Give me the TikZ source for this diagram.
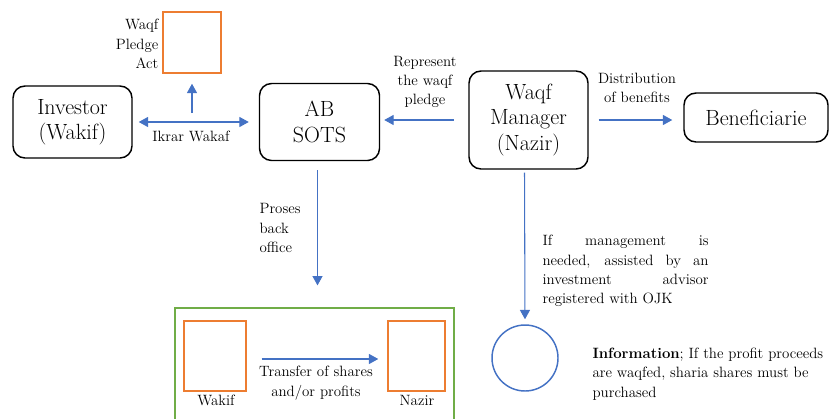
\documentclass[tikz,border=0pt]{standalone}
\usepackage{fontspec}
\usetikzlibrary{arrows.meta}
\definecolor{linkblue}{HTML}{4472C4}
\definecolor{boxorange}{HTML}{ED7D31}
\definecolor{framegreen}{HTML}{70AD47}

\begin{document}
\begin{tikzpicture}[
    x=0.75pt, y=-0.75pt,
    party/.style={%
        draw=black, line width=1.1pt, rounded corners=9pt,
        align=center, font=\fontsize{16.5}{19}\selectfont},
    document/.style={%
        draw=boxorange, line width=1.1pt},
    link/.style={%
        draw=linkblue, line width=0.8pt,
        -{Triangle[width=7.5pt,length=7pt]}},
    note/.style={%
        inner sep=1pt, font=\fontsize{11.2}{14.5}\selectfont},
]
    \useasboundingbox (0,0) rectangle (830,418);
     %Parties
    \node[party, minimum width=89.25pt, minimum height=54pt] (investor) at (72.5,122) {Investor\\(Wakif)};
    \node[party, minimum width=90pt, minimum height=57.75pt] (sots) at (319.5,122) {AB\\SOTS};
    \node[party, minimum width=89.25pt, minimum height=73.5pt] (manager) at (528.5,120) {Waqf\\Manager\\(Nazir)};
    \node[party, minimum width=108pt, minimum height=36.75pt] (benef) at (756,117.5) {Beneficiarie};
     %Documents
    \node[document, minimum width=43.5pt, minimum height=45.75pt] (pledge) at (192,42.5) {};
    \node[note, anchor=east, align=right] (pledgelabel) at (160,44) {Waqf\\Pledge\\Act};
    \node[draw=framegreen, line width=0.9pt, minimum width=209.25pt, minimum height=91.5pt] (office) at (314.5,369) {};
    \node[document, minimum width=46.5pt, minimum height=52.5pt] (wakif) at (215,356) {};
    \node[document, minimum width=42.75pt, minimum height=52.5pt] (nazir) at (416.5,356) {};
    \node[note] (wakiflabel) at (216,400) {Wakif};
    \node[note] (nazirlabel) at (417,400) {Nazir};
    \node[draw=linkblue, line width=1.1pt, circle, minimum size=49.5pt] (advisor) at (525,358) {};
     %Connectors
    \draw[link, {Triangle[width=7.5pt,length=7pt]}-{Triangle[width=7.5pt,length=7pt]},
        shorten <=4.5pt, shorten >=7.5pt] (investor.east) -- (investor.east -| sots.west);
    \coordinate (ikrar) at (192,113);
    \draw[link, shorten >=7.5pt] (ikrar) -- (pledge.south);
    \draw[link, shorten <=11pt, shorten >=3pt] (manager.west) -- (manager.west -| sots.east);
    \draw[link, shorten <=7.5pt, shorten >=8.25pt] (manager.east) -- (manager.east -| benef.west);
    \draw[link, shorten <=6.75pt, shorten >=16.5pt] ([xshift=-1.5pt]sots.south) -- ([xshift=-1.5pt]sots.south |- office.north);
    \draw[link, shorten <=2.25pt, shorten >=3.75pt] ([xshift=-3pt]manager.south) -- (advisor.north);
    \draw[link, shorten <=11.25pt, shorten >=6.75pt] ([yshift=-2.25pt]wakif.east) -- ([yshift=-2.25pt]wakif.east -| nazir.west);
     %Labels
    \node[note] (ikrarlabel) at (191,136) {Ikrar Wakaf};
    \node[note, align=center] (represent) at (425,82) {Represent\\the waqf\\pledge};
    \node[note, align=center] (distribution) at (637,88) {Distribution\\of benefits};
    \node[note, anchor=west, align=left] (proses) at (258,228) {Proses\\back\\office};
    \node[note, align=center] (transfer) at (316,383) {Transfer of shares\\and/or profits};
    \node[note, anchor=west, text width=124.5pt, align=justify] (management) at (541,271)
        {If management is\linebreak needed, assisted by an\linebreak investment advisor\linebreak registered with OJK};
    \node[note, anchor=west, align=left] (information) at (591,374)
        {\textbf{Information}; If the profit proceeds\\are waqfed, sharia shares must be\\purchased};
\end{tikzpicture}
\end{document}
